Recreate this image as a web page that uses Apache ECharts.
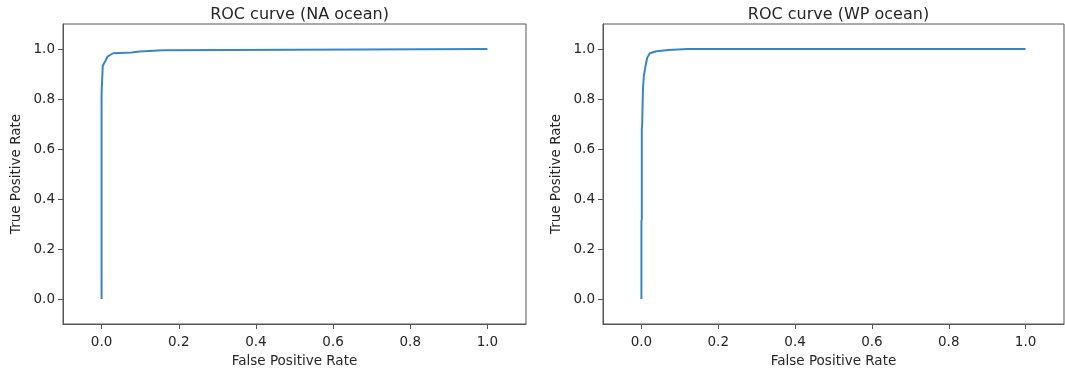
<!DOCTYPE html>
<html>
<head>
<meta charset="utf-8">
<script src="https://cdn.jsdelivr.net/npm/echarts@6.0.0/dist/echarts.min.js"></script>
<style>
  html, body { margin: 0; padding: 0; background: #fff; }
  #roc-container { width: 1065px; height: 376px; }
</style>
</head>
<body>
<div id="roc-container"></div>
<script>
// ROC points
const naFpr = [0, 0, 0.003, 0.003, 0.006, 0.010, 0.015, 0.022, 0.030, 0.035, 0.078, 0.082, 0.099, 0.104, 0.158, 0.162, 1.0];
const naTpr = [0, 0.822, 0.83, 0.932, 0.942, 0.952, 0.969, 0.976, 0.983, 0.986, 0.986, 0.99, 0.99, 0.995, 0.995, 1.0, 1.0];

const wpFpr = [0, 0, 0.001, 0.001, 0.002, 0.004, 0.0065, 0.011, 0.015, 0.022, 0.039, 0.07, 0.12, 1.0];
const wpTpr = [0, 0.31, 0.32, 0.68, 0.70, 0.84, 0.894, 0.934, 0.965, 0.983, 0.991, 0.996, 1.0, 1.0];

const tickValues = [0, 0.2, 0.4, 0.6, 0.8, 1.0];
const titles = ['ROC curve (NA ocean)', 'ROC curve (WP ocean)'];

var chartDom = document.getElementById('roc-container');
var myChart = echarts.init(chartDom, null, { renderer: 'canvas' });
var option;

const font = 'DejaVu Sans';
const textColor = '#262626';
const lineColor = '#3a86c2';

const grids = [
  { left: 63, top: 24, width: 463, height: 300 },
  { left: 603, top: 24, width: 461, height: 300 },
];

function makeAxis(isX, idx) {
  return {
    type: 'value',
    gridIndex: idx,
    min: -0.1,
    max: 1.1,
    name: isX ? 'False Positive Rate' : 'True Positive Rate',
    nameLocation: 'middle',
    nameGap: isX ? 30 : 40,
    nameTextStyle: { fontFamily: font, fontSize: 13.5, color: textColor },
    splitLine: { show: false },
    axisLine: { show: true, onZero: false, lineStyle: { color: '#555', width: 1 } },
    axisTick: { show: true, inside: false, length: 5, customValues: tickValues, lineStyle: { color: '#555' } },
    axisLabel: {
      customValues: tickValues,
      margin: isX ? 11 : 8,
      fontFamily: font,
      fontSize: 13.5,
      color: textColor,
      formatter: (v) => v.toFixed(1),
    },
  };
}

function pairs(xs, ys) {
  return xs.map((x, i) => [x, ys[i]]);
}

option = {
  animation: false,
  backgroundColor: '#fff',
  title: titles.map((t, i) => ({
    text: t,
    left: grids[i].left + grids[i].width / 2,
    top: 2,
    textAlign: 'center',
    textStyle: { fontFamily: font, fontSize: 16, fontWeight: 'normal', color: textColor },
  })),
  grid: grids.map((g) => ({ ...g, show: true, borderColor: '#555', borderWidth: 1, backgroundColor: 'transparent' })),
  xAxis: [makeAxis(true, 0), makeAxis(true, 1)],
  yAxis: [makeAxis(false, 0), makeAxis(false, 1)],
  series: [
    {
      type: 'line',
      xAxisIndex: 0,
      yAxisIndex: 0,
      showSymbol: false,
      lineStyle: { color: lineColor, width: 2 },
      data: pairs(naFpr, naTpr),
    },
    {
      type: 'line',
      xAxisIndex: 1,
      yAxisIndex: 1,
      showSymbol: false,
      lineStyle: { color: lineColor, width: 2 },
      data: pairs(wpFpr, wpTpr),
    },
  ],
};

option && myChart.setOption(option);
</script>
</body>
</html>
